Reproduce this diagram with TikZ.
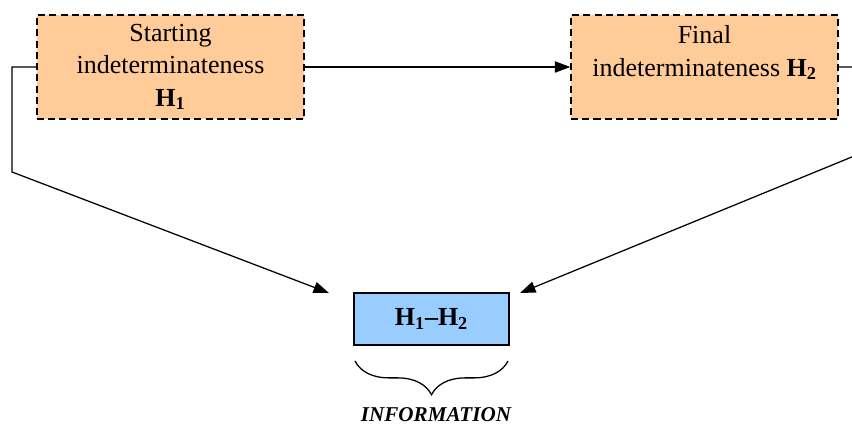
\documentclass[tikz,border=0pt]{standalone}
\usepackage{fontspec}
\setmainfont{Liberation Serif}
\usetikzlibrary{arrows.meta,decorations.pathreplacing}

\definecolor{boxorange}{HTML}{FFCC99}
\definecolor{boxblue}{HTML}{99CCFF}

\begin{document}
\begin{tikzpicture}
  [x=0.025cm,y=-0.025cm,
   hbox/.style={draw,dash pattern=on 5pt off 3pt,line width=0.9pt,fill=boxorange,
     minimum width=6.675cm,minimum height=2.6cm,align=center,
     font=\fontsize{18.5}{23}\selectfont},
   ibox/.style={draw,line width=0.8pt,fill=boxblue,minimum width=3.875cm,
     minimum height=1.3cm,font=\fontsize{18.5}{22}\selectfont\bfseries},
   conn/.style={line width=0.9pt,-{Triangle[length=11pt,width=8pt]}}]
  \useasboundingbox (0,0) rectangle (852,425);
  \clip (0,0) rectangle (852,425);

  \node[hbox] (start) at (170.5,67) {Starting\\indeterminateness\\\textbf{H\textsubscript{1}}};
  \node[hbox] (final) at (704.5,67) {Final\\indeterminateness \textbf{H\textsubscript{2}}\\~};
  \node[ibox] (info) at (431.5,319) {H\textsubscript{1}–H\textsubscript{2}};

  \coordinate (lc) at (12,172);
  \coordinate (rc) at (864,152);
  \coordinate (la) at (329,293);
  \coordinate (ra) at (520,293);

  \draw[conn] (start.east) -- (final.west);
  \draw[conn] (start.west) -| (lc) -- (la);
  \draw[conn] (final.east) -| (rc) -- (ra);

  \draw[line width=0.9pt,decorate,decoration={brace,mirror,amplitude=24pt}]
    (355,361) -- (508,361);
  \node[font=\fontsize{15}{17}\selectfont\bfseries\itshape] (infotext) at (436,415) {INFORMATION};
\end{tikzpicture}
\end{document}
